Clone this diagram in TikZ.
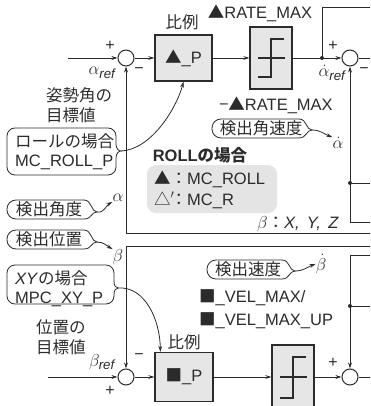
\documentclass[tikz,border=0pt]{standalone}
\usepackage{fontspec}
\usepackage{amsmath}
\setmainfont{Liberation Sans}
\newfontfamily\jp{Noto Sans CJK JP}
\usetikzlibrary{arrows.meta,calc}
\definecolor{ln}{HTML}{2B2B2B}
\definecolor{boxfill}{HTML}{E6E6E6}
\definecolor{panelfill}{HTML}{E4E4E4}
\newcommand\mytagshort[5]{% L T B tipx tipy
  \draw[tagline, rounded corners=9pt] (#4-13,#2) -- (#1,#2) -- (#1,#3) -- (#4-13,#3);
  \draw[tagline] (#4-13,#2) .. controls (#4-5,#2) and (#4-6,#5) .. (#4,#5) .. controls (#4-6,#5) and (#4-5,#3) .. (#4-13,#3);
}
\newcommand\mytagbig[6]{% L T R B tipx tipy
  \draw[tagline, rounded corners=8pt] (#3,#6-7) -- (#3,#2) -- (#1,#2) -- (#1,#4) -- (#3,#4) -- (#3,#6+7);
  \draw[tagline] (#3,#6-7) .. controls (#3,#6-2) and (#5-2,#6) .. (#5,#6) .. controls (#5-2,#6) and (#3,#6+2) .. (#3,#6+7);
}
\begin{document}
\begin{tikzpicture}[x=1pt,y=-1pt,
  font=\fontsize{16.5}{19}\selectfont,
  wire/.style={draw=ln, line width=0.8pt},
  sig/.style={wire, -{Stealth[length=6pt,width=3.8pt]}},
  tagline/.style={draw=ln, line width=0.8pt},
  sumc/.style={circle, draw=ln, line width=1pt, minimum size=16pt, inner sep=0pt, fill=white},
  blk/.style={draw=ln, line width=1.3pt, fill=boxfill, inner sep=0pt, text=ln},
  dotc/.style={circle, fill=ln, inner sep=0pt, minimum size=4pt},
  lbl/.style={inner sep=0pt, text=ln},
  mth/.style={inner sep=0pt, text=ln, font=\fontsize{19}{19}\selectfont},
  sgn/.style={inner sep=0pt, text=ln, font=\fontsize{16}{16}\selectfont},
  jpl/.style={lbl, font=\jp\fontsize{16.5}{20}\selectfont},
]
\useasboundingbox (0,0) rectangle (370,406);
\clip (0,0) rectangle (370,406);

% ---------- upper loop ----------
\node[sumc] (sum1) at (126,58) {};
\node[blk, minimum width=57pt, minimum height=46pt] (p1) at (183.5,58) {{\jp ▲}\_P};
\node[blk, minimum width=42pt, minimum height=62pt] (s1) at (271,58) {};
\draw[line width=1.3pt, ln] ($(s1.center)+(-13,19)$) -- ++(13,0) -- ++(0,-38) -- ++(13,0);
\draw[line width=1.3pt, ln] ($(s1.center)+(-13,0)$) -- ++(27,0);
\node[dotc] (d1) at (322,58) {};
\node[sumc] (sum2) at (350,58) {};
\coordinate (in1) at (68,58);
\coordinate (out1) at (372,58);
\coordinate (top1) at (372,7);
\coordinate (fb1) at (372,222);
\node[dotc] (d2) at (350,183) {};
\coordinate (fb1b) at (372,183);
\coordinate (fr1) at (372,233);

\draw[sig] (in1) -- (sum1);
\draw[sig] (sum1) -- (p1);
\draw[sig] (p1) -- (s1);
\draw[sig] (s1) -- (sum2);
\draw[wire] (d1.center) |- (top1);
\draw[wire] (sum2) -- (out1);
\draw[sig] (fb1) -| (sum2);
\draw[wire] (d2.center) -- (fb1b);
\draw[sig] (fr1) -| (sum1);

\node[sgn] (pl1) at (110,46) {+};
\node[mth] (aref) at (102,73) {$\alpha_{\text{\itshape ref}}$};
\node[sgn] (mi1) at (139,71) {−};
\node[sgn] (pl2) at (333,46) {+};
\node[mth] (adref) at (332,73) {$\dot{\alpha}_{\text{\itshape ref}}$};
\node[sgn] (mi2) at (364,71) {−};
\node[jpl] (hirei1) at (182,22) {比例};
\node[lbl] (rmax) at (260,13) {{\jp ▲}RATE\_MAX};
\node[lbl] (rmin) at (276,105) {{\jp −▲}RATE\_MAX};

% ---------- lower loop ----------
\node[sumc] (sumL1) at (126,377) {};
\node[blk, minimum width=58pt, minimum height=49pt] (pL) at (184,377) {{\jp ■}\_P};
\node[blk, minimum width=42pt, minimum height=64pt] (sL) at (293,377) {};
\draw[line width=1.3pt, ln] ($(sL.center)+(-13,21)$) -- ++(13,0) -- ++(0,-41) -- ++(13,0);
\draw[line width=1.3pt, ln] ($(sL.center)+(-13,0)$) -- ++(27,0);
\node[sumc] (sumL2) at (350,377) {};
\coordinate (in2) at (48,377);
\coordinate (out2) at (372,377);
\coordinate (fr2) at (372,246);
\coordinate (fb2) at (372,255);
\node[dotc] (d3) at (350,306) {};
\coordinate (fb2b) at (372,306);
\coordinate (pLin) at ($(pL.north west)+(6,0)$);

\draw[sig] (in2) -- (sumL1);
\draw[sig] (sumL1) -- (pL);
\draw[sig] (pL) -- (sL);
\draw[sig] (sL) -- (sumL2);
\draw[wire] (sumL2) -- (out2);
\draw[sig] (fr2) -| (sumL1);
\draw[sig] (fb2) -| (sumL2);
\draw[wire] (d3.center) -- (fb2b);

\node[mth] (bref) at (102,362) {$\beta_{\text{\itshape ref}}$};
\node[sgn] (mi3) at (139,357) {−};
\node[sgn] (pl3) at (110,391) {+};
\node[sgn] (pl4) at (333,363) {+};
\node[jpl] (hirei2) at (184,342) {比例};

% ---------- annotations ----------
\node[jpl, anchor=west, align=left] (goal1) at (46,105.5) {姿勢角の\\目標値};
\node[jpl, anchor=west, align=left] (goal2) at (36,337.5) {位置の\\目標値};

\node[lbl, anchor=west, align=left] (t3) at (15,152) {{\jp ロールの場合}\\MC\_ROLL\_P};
\mytagbig{7}{128}{116}{175}{121}{151}
\coordinate (t3tip) at (121,151);
\draw[sig] (t3tip) .. controls (150,150) and (176,110) .. (p1.south);

\node[lbl, anchor=west, align=left] (t4) at (15,288.5) {\textit{XY}{\jp の場合}\\MPC\_XY\_P};
\mytagbig{7}{265}{114}{304}{118}{288}
\coordinate (t4tip) at (118,288);
\draw[sig] (t4tip) .. controls (145,286) and (160,320) .. (pLin);

\node[mth] (alpha) at (118,198) {$\alpha$};
\node[jpl] (t1) at (49,209.5) {検出角度};
\mytagshort{7}{200}{219}{97}{212}
\coordinate (t1tip) at (97,212);
\draw[sig] (t1tip) to[out=-10,in=210] (alpha.south west);

\node[mth] (beta) at (118,257) {$\beta$};
\node[jpl] (t2) at (49,239.5) {検出位置};
\mytagshort{7}{230}{249}{97}{242}
\coordinate (t2tip) at (97,242);
\draw[sig] (t2tip) to[out=0,in=150] (beta.north west);

\node[mth] (adot) at (338,143) {$\dot{\alpha}$};
\node[jpl] (t5) at (261,128.5) {検出角速度};
\mytagshort{212}{119}{138}{312}{130}
\coordinate (t5tip) at (312,130);
\draw[sig] (t5tip) to[out=0,in=160] (adot.north west);

\node[mth] (bdot) at (321,264) {$\dot{\beta}$};
\node[jpl] (t6) at (248,269.5) {検出速度};
\mytagshort{207}{260}{279}{295}{271}
\coordinate (t6tip) at (295,271);
\draw[sig] (t6tip) to[out=0,in=200] (bdot.west);

\node[lbl, font=\fontsize{16.5}{19}\selectfont\bfseries] (rollh) at (200,155) {ROLL{\jp の場合}};
\node[fill=panelfill, rounded corners=9pt, minimum width=130pt, minimum height=48pt, inner sep=0pt] (panel) at (212,189) {};
\node[lbl, anchor=west] (pa) at (154,179) {{\jp ▲：}MC\_ROLL};
\node[lbl, anchor=west] (pb) at (154,200) {{\jp △}\rlap{\raisebox{1pt}{$^{\prime}$}}{\jp ：}MC\_R};

\node[lbl] (bxyz) at (298,224) {{\fontsize{19}{19}\selectfont$\beta$}{\jp ：}\textit{X,\ \,Y,\ \,Z}};

\node[lbl, anchor=west] (vel1) at (199,298) {{\jp ■}\_VEL\_MAX/};
\node[lbl, anchor=west] (vel2) at (199,321) {{\jp ■}\_VEL\_MAX\_UP};
\end{tikzpicture}
\end{document}
